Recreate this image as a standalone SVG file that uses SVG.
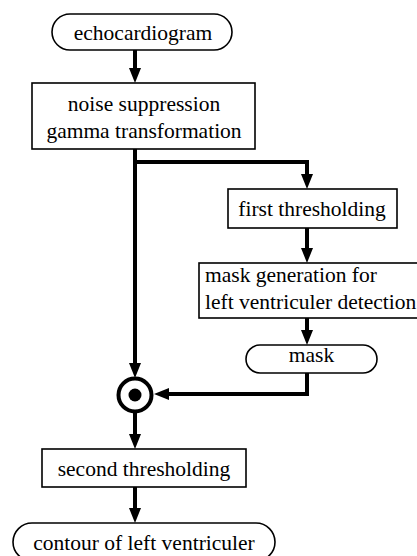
<svg xmlns="http://www.w3.org/2000/svg" width="417" height="556" viewBox="0 0 417 556">
<style>
.box{fill:#fff;stroke:#000;stroke-width:1.6}
.t{font-family:"Liberation Serif","Times New Roman",serif;font-size:21.5px;fill:#000}
.c{text-anchor:middle}
.con{fill:none;stroke:#000;stroke-width:4}
</style>
<defs>
<marker id="ah" markerUnits="userSpaceOnUse" markerWidth="16" markerHeight="14" refX="0" refY="0" viewBox="0 -7 16 14" orient="auto">
<path d="M0,-6 L15,0 L0,6 z" fill="#000"/>
</marker>
</defs>
<rect width="417" height="556" fill="#fff"/>
<g id="connectors">
<path class="con" d="M135,50 V68" marker-end="url(#ah)"/>
<path class="con" d="M135,149 V363" marker-end="url(#ah)"/>
<path class="con" d="M133,162 H307 V174" marker-end="url(#ah)"/>
<path class="con" d="M307,228 V248" marker-end="url(#ah)"/>
<path class="con" d="M307,318 V330" marker-end="url(#ah)"/>
<path class="con" d="M307,373 V394 H169" marker-end="url(#ah)"/>
<path class="con" d="M135,413 V434" marker-end="url(#ah)"/>
<path class="con" d="M135,487 V508" marker-end="url(#ah)"/>
</g>
<g id="echocardiogram">
<rect class="box" x="52" y="14" width="180" height="36" rx="18"/>
<text class="t c" x="143" y="40">echocardiogram</text>
</g>
<g id="noise">
<rect class="box" x="32" y="83" width="223" height="66"/>
<text class="t c" x="144" y="111">noise suppression</text>
<text class="t c" x="144" y="138">gamma transformation</text>
</g>
<g id="first">
<rect class="box" x="228" y="189" width="169" height="39"/>
<text class="t c" x="312" y="216">first thresholding</text>
</g>
<g id="maskgen">
<rect class="box" x="199" y="263" width="222" height="55"/>
<text class="t" x="205" y="282">mask generation for</text>
<text class="t" x="205" y="309">left ventriculer detection</text>
</g>
<g id="mask">
<rect class="box" x="246" y="345" width="131" height="28" rx="14"/>
<text class="t c" x="311.5" y="362">mask</text>
</g>
<g id="merge">
<circle cx="135" cy="395" r="16.5" fill="#fff" stroke="#000" stroke-width="4"/>
<circle cx="135" cy="395" r="6.5" fill="#000"/>
</g>
<g id="second">
<rect class="box" x="42" y="449" width="204" height="38"/>
<text class="t c" x="144" y="476">second thresholding</text>
</g>
<g id="contour">
<rect class="box" x="13" y="523" width="262" height="38" rx="19"/>
<text class="t c" x="144" y="550">contour of left ventriculer</text>
</g>
</svg>
